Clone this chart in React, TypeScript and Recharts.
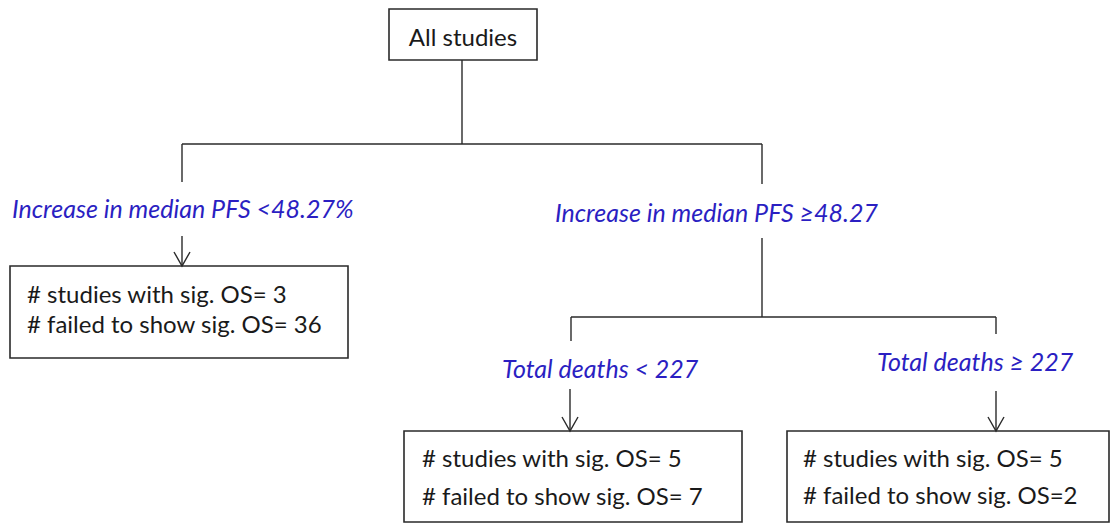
import React from 'react';
import { ScatterChart, Scatter, XAxis, YAxis, ReferenceLine, ReferenceArea } from 'recharts';

// --- data ---
const rootTitle = 'All studies';
const splitLabels = [
  'Increase in median PFS <48.27%',
  'Increase in median PFS ≥48.27',
  'Total deaths < 227',
  'Total deaths ≥ 227',
];
const sigOS = [3, 5, 5];
const failedOS = [36, 7, 2];
const failedSep = [' ', ' ', ''];

// --- layout (px, the axes map 1:1 onto the canvas) ---
const W = 1110;
const H = 523;
const FONT = 'Lato, "Open Sans", sans-serif';
const BLUE = '#2b1fc2';
const INK = '#1a1a1a';
const LINE = '#2a2a2a';

const rootBox = { x1: 389, x2: 537, y1: 9, y2: 60, tx: 463, ty: 46 };
const leafBoxes = [
  { x1: 10, x2: 348, y1: 266, y2: 358, tx: 27, ty: [303, 333] },
  { x1: 404, x2: 742, y1: 431, y2: 522, tx: 422, ty: [467, 505] },
  { x1: 787, x2: 1109, y1: 431, y2: 522, tx: 803, ty: [467, 504] },
];
const labelPos = [
  { x: 12, y: 218 },
  { x: 555, y: 222 },
  { x: 502, y: 378 },
  { x: 877, y: 371 },
];
const connectors = [
  [[462, 60], [462, 144]],
  [[182, 144], [762, 144]],
  [[182, 144], [182, 182]],
  [[762, 144], [762, 184]],
  [[762, 238], [762, 317]],
  [[571, 317], [996, 317]],
  [[571, 317], [571, 341]],
  [[996, 317], [996, 334]],
];
const arrows = [
  { x: 182, y1: 236, y2: 266 },
  { x: 570, y1: 389, y2: 431 },
  { x: 996, y1: 391, y2: 431 },
];

type TextPt = { x: number; y: number; text: string; kind: 'root' | 'label' | 'leaf' };

const textPoints: TextPt[] = [
  { x: rootBox.tx, y: rootBox.ty, text: rootTitle, kind: 'root' },
  ...splitLabels.map((t, i) => ({ x: labelPos[i].x, y: labelPos[i].y, text: t, kind: 'label' as const })),
  ...leafBoxes.flatMap((b, i) => [
    { x: b.tx, y: b.ty[0], text: `# studies with sig. OS= ${sigOS[i]}`, kind: 'leaf' as const },
    { x: b.tx, y: b.ty[1], text: `# failed to show sig. OS=${failedSep[i]}${failedOS[i]}`, kind: 'leaf' as const },
  ]),
];

const arrowTips = arrows.map((a) => ({ x: a.x, y: a.y2 }));

const TextShape = (props: any) => {
  const { cx, cy, payload } = props;
  const p = payload as TextPt;
  const isLabel = p.kind === 'label';
  return (
    <text
      x={cx}
      y={cy}
      textAnchor={p.kind === 'root' ? 'middle' : 'start'}
      fontFamily={FONT}
      fontSize={isLabel ? 25 : 24}
      fontStyle={isLabel ? 'italic' : 'normal'}
      fill={isLabel ? BLUE : INK}
    >
      {p.text}
    </text>
  );
};

const ArrowHead = (props: any) => {
  const { cx, cy } = props;
  return (
    <polyline
      points={`${cx - 8},${cy - 14} ${cx},${cy} ${cx + 8},${cy - 14}`}
      fill="none"
      stroke={LINE}
      strokeWidth={1.4}
    />
  );
};

export default function App() {
  return (
    <div style={{ position: 'fixed', left: 0, top: 0, background: '#fff' }}>
      <ScatterChart width={W} height={H} margin={{ top: 0, right: 0, bottom: 0, left: 0 }}>
        <XAxis type="number" dataKey="x" domain={[0, W]} hide />
        <YAxis type="number" dataKey="y" domain={[0, H]} reversed hide />

        {connectors.map((c, i) => (
          <ReferenceLine
            key={`c${i}`}
            segment={[{ x: c[0][0], y: c[0][1] }, { x: c[1][0], y: c[1][1] }]}
            stroke={LINE}
            strokeWidth={1.4}
          />
        ))}
        {arrows.map((a, i) => (
          <ReferenceLine
            key={`a${i}`}
            segment={[{ x: a.x, y: a.y1 }, { x: a.x, y: a.y2 }]}
            stroke={LINE}
            strokeWidth={1.4}
          />
        ))}

        <ReferenceArea
          x1={rootBox.x1}
          x2={rootBox.x2}
          y1={rootBox.y1}
          y2={rootBox.y2}
          fill="#fff"
          fillOpacity={1}
          stroke={LINE}
          strokeWidth={1.6}
        />
        {leafBoxes.map((b, i) => (
          <ReferenceArea
            key={`b${i}`}
            x1={b.x1}
            x2={b.x2}
            y1={b.y1}
            y2={b.y2}
            fill="#fff"
            fillOpacity={1}
            stroke={LINE}
            strokeWidth={1.6}
          />
        ))}

        <Scatter data={arrowTips} shape={ArrowHead} isAnimationActive={false} />
        <Scatter data={textPoints} shape={TextShape} isAnimationActive={false} />
      </ScatterChart>
    </div>
  );
}
